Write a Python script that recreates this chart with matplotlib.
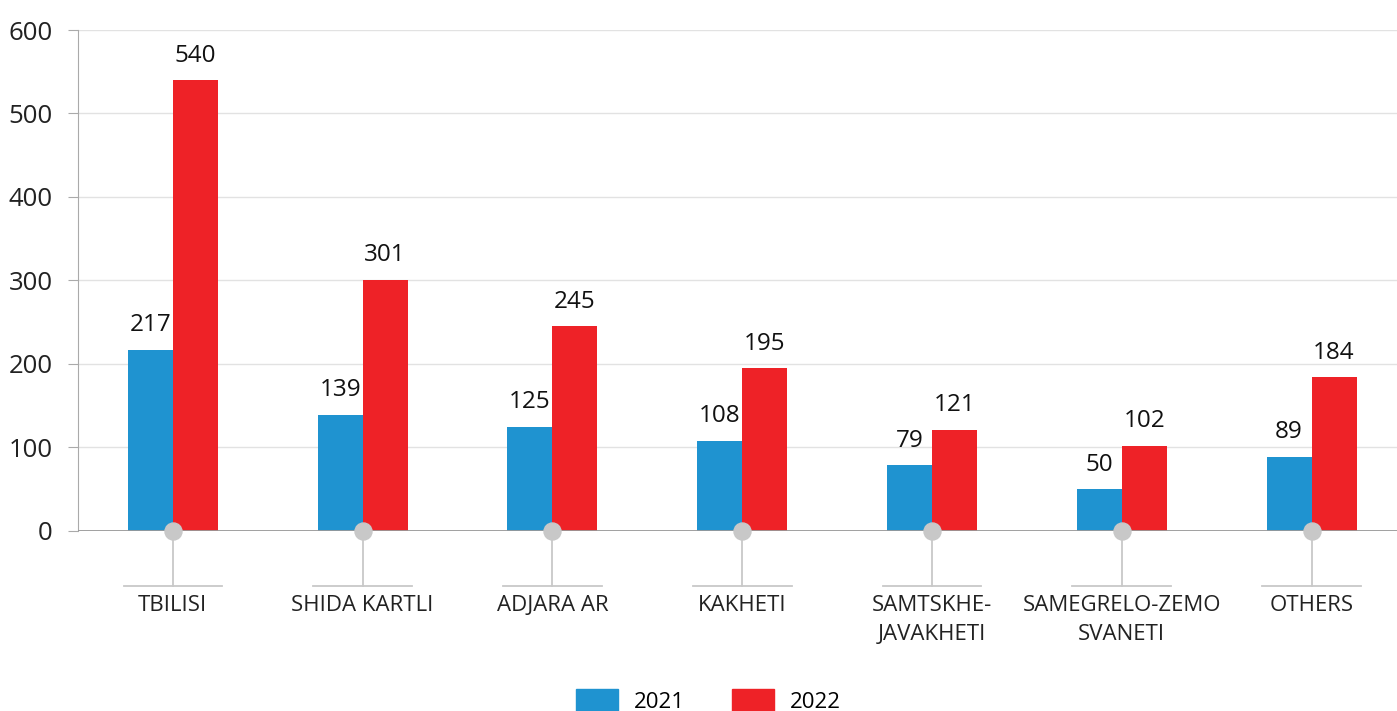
import numpy as np
import matplotlib
matplotlib.use("Agg")
import matplotlib.pyplot as plt
from matplotlib.patches import Patch

plt.rcParams['font.family'] = ['Open Sans', 'DejaVu Sans']

regions = ["TBILISI", "SHIDA KARTLI", "ADJARA AR", "KAKHETI",
           "SAMTSKHE-\nJAVAKHETI", "SAMEGRELO-ZEMO\nSVANETI", "OTHERS"]
v2021 = [217, 139, 125, 108, 79, 50, 89]
v2022 = [540, 301, 245, 195, 121, 102, 184]
years = ["2021", "2022"]

c_blue = "#1f93d0"
c_red = "#ee2227"
c_grey = "#c8c8c8"

fig = plt.figure(figsize=(13.97, 7.11), dpi=100)
ax = fig.add_axes([0.0558, 0.2532, 0.9442, 0.7046])

x = np.arange(len(regions))
w = 0.237
b1 = ax.bar(x - w / 2, v2021, w, color=c_blue, zorder=3)
b2 = ax.bar(x + w / 2, v2022, w, color=c_red, zorder=3)

for bars in (b1, b2):
    for r in bars:
        ax.annotate(str(int(r.get_height())),
                    (r.get_x() + r.get_width() / 2, r.get_height()),
                    xytext=(0, 9), textcoords="offset points",
                    ha="center", va="bottom", fontsize=17.5, color="#111111")

ax.set_xlim(-0.5, 6.45)
ax.set_ylim(0, 600)
ax.set_yticks(range(0, 601, 100))
ax.tick_params(axis="y", labelsize=18.5, length=7, color="#aaaaaa", pad=11,
               labelcolor="#222222")
ax.set_xticks([])
ax.grid(axis="y", color="#e2e2e2", linewidth=1, zorder=0)
for s in ("top", "right", "bottom"):
    ax.spines[s].set_visible(False)
ax.spines["left"].set_color("#aaaaaa")
ax.axhline(0, color="#999999", linewidth=1.3, zorder=4)

# category markers below the axis
ax.scatter(x, np.zeros(len(x)), s=150, color=c_grey, zorder=5, clip_on=False)
for i, lab in enumerate(regions):
    ax.plot([i, i], [0, -66], color=c_grey, linewidth=1.3, clip_on=False, zorder=1)
    ax.plot([i - 0.26, i + 0.26], [-66, -66], color=c_grey, linewidth=1.3,
            clip_on=False)
    ax.text(i, -77, lab, ha="center", va="top", fontsize=16,
            color="#222222", linespacing=1.5)

handles = [Patch(color=c_blue), Patch(color=c_red)]
fig.legend(handles, years, loc="center", bbox_to_anchor=(0.507, 0.014), ncol=2,
           frameon=False, fontsize=16, handlelength=1.9, handleheight=1.3,
           columnspacing=2.1, handletextpad=0.7)

fig.savefig("out.png", dpi=100)
